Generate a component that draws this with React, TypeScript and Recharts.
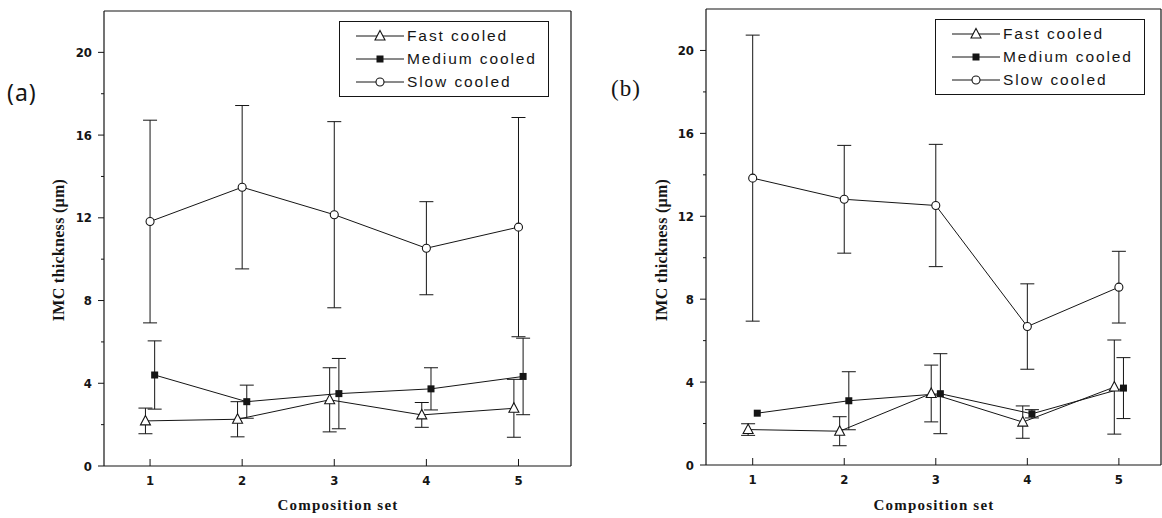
import React from "react";
import { ScatterChart, Scatter, XAxis, YAxis, ErrorBar } from "recharts";

// composition sets on the x axis
const categories = [1, 2, 3, 4, 5];
const yTicks = [0, 2, 4, 6, 8, 10, 12, 14, 16, 18, 20];

// panel (a)
const aFast = [2.18, 2.26, 3.2, 2.47, 2.79];
const aFastErr = [0.62, 0.85, 1.55, 0.6, 1.4];
const aMedium = [4.4, 3.11, 3.5, 3.73, 4.33];
const aMediumErr = [1.65, 0.8, 1.7, 1.02, 1.85];
const aSlow = [11.82, 13.48, 12.15, 10.53, 11.55];
const aSlowErr = [4.9, 3.95, 4.5, 2.25, 5.3];

// panel (b)
const bFast = [1.71, 1.63, 3.45, 2.07, 3.76];
const bFastErr = [0.28, 0.7, 1.37, 0.78, 2.27];
const bMedium = [2.5, 3.1, 3.44, 2.47, 3.71];
const bMediumErr = [0, 1.4, 1.93, 0.2, 1.47];
const bSlow = [13.84, 12.82, 12.52, 6.68, 8.58];
const bSlowErr = [6.9, 2.6, 2.95, 2.06, 1.73];

const INK = "#151515";
const TICK_FONT = "'Liberation Sans Narrow', 'DejaVu Sans Condensed', 'Arial Narrow', sans-serif";
const SERIF = "'Liberation Serif', 'DejaVu Serif', serif";
const SANS = "'Liberation Sans', Arial, sans-serif";

// small sideways shift so the three series don't sit on top of each other
const build = (vals: number[], errs: number[], shift: number) =>
  categories.map((c, i) => ({ x: c + shift, y: vals[i], err: errs[i] }));

function Triangle({ cx, cy }: any) {
  if (cx == null || cy == null) return null;
  return (
    <path
      d={`M${cx},${cy - 5.5} L${cx + 5},${cy + 4} L${cx - 5},${cy + 4} Z`}
      fill="#fff"
      stroke={INK}
      strokeWidth={1.1}
    />
  );
}

function Square({ cx, cy }: any) {
  if (cx == null || cy == null) return null;
  return <rect x={cx - 3.5} y={cy - 3.5} width={7} height={7} fill={INK} />;
}

function Circle({ cx, cy }: any) {
  if (cx == null || cy == null) return null;
  return <circle cx={cx} cy={cy} r={4} fill="#fff" stroke={INK} strokeWidth={1.1} />;
}

function LeftTick(props: any) {
  const { x, y, payload } = props;
  const ax = x + 12;
  const major = payload.value % 4 === 0;
  return (
    <g>
      <line x1={ax} x2={ax - (major ? 6 : 3)} y1={y} y2={y} stroke={INK} strokeWidth={1} />
      {major && (
        <text x={x} y={y} dy={4.5} textAnchor="end" fill={INK} fontFamily={TICK_FONT} fontWeight="bold" fontSize={13}>
          {payload.value}
        </text>
      )}
    </g>
  );
}

function BottomTick(props: any) {
  const { x, y, payload } = props;
  const ay = y - 8;
  return (
    <g>
      <line x1={x} x2={x} y1={ay} y2={ay - 7} stroke={INK} strokeWidth={1} />
      <text x={x} y={y} dy={11} textAnchor="middle" fill={INK} fontFamily={TICK_FONT} fontWeight="bold" fontSize={13}>
        {payload.value}
      </text>
    </g>
  );
}

function LegendBox({ left, top }: { left: number; top: number }) {
  const rows = [
    { name: "Fast cooled", Mark: Triangle },
    { name: "Medium cooled", Mark: Square },
    { name: "Slow cooled", Mark: Circle },
  ];
  return (
    <div
      style={{
        position: "absolute",
        left,
        top,
        width: 210,
        height: 76,
        border: `1px solid ${INK}`,
        background: "#fff",
        boxSizing: "border-box",
      }}
    >
      {rows.map((r, i) => (
        <div key={r.name} style={{ position: "absolute", left: 14, top: 4 + i * 23, height: 20, display: "flex", alignItems: "center" }}>
          <svg width={52} height={16}>
            <line x1={2} x2={50} y1={8} y2={8} stroke={INK} strokeWidth={1} />
            <r.Mark cx={26} cy={8} />
          </svg>
          <span style={{ fontFamily: SANS, fontSize: 15.5, letterSpacing: 1.9, color: INK, marginLeft: 1 }}>{r.name}</span>
        </div>
      ))}
    </div>
  );
}

type PanelProps = {
  left: number;
  width: number;
  margin: { top: number; right: number; bottom: number; left: number };
  xDomain: [number, number];
  fast: { y: number[]; e: number[] };
  medium: { y: number[]; e: number[] };
  slow: { y: number[]; e: number[] };
  tag: string;
  tagLeft: number;
  tagFont: string;
  yLabelX: number;
  xLabelX: number;
  legendLeft: number;
  legendTop: number;
};

function Panel(p: PanelProps) {
  const fastData = build(p.fast.y, p.fast.e, -0.05);
  const mediumData = build(p.medium.y, p.medium.e, 0.05);
  const slowData = build(p.slow.y, p.slow.e, 0);
  const line = { stroke: INK, strokeWidth: 1 };
  return (
    <>
      <div style={{ position: "absolute", left: p.left, top: 0 }}>
        <ScatterChart width={p.width} height={518} margin={p.margin}>
          <XAxis
            xAxisId="b"
            type="number"
            dataKey="x"
            domain={p.xDomain}
            allowDataOverflow
            ticks={categories}
            height={30}
            tickSize={0}
            tickMargin={8}
            tickLine={false}
            axisLine={{ stroke: INK, strokeWidth: 1.2 }}
            tick={<BottomTick />}
          />
          <XAxis
            xAxisId="t"
            type="number"
            dataKey="x"
            orientation="top"
            domain={p.xDomain}
            allowDataOverflow
            ticks={categories}
            height={1}
            mirror
            tickSize={6}
            tick={false}
            tickLine={{ stroke: INK }}
            axisLine={{ stroke: INK, strokeWidth: 1.2 }}
          />
          <YAxis
            yAxisId="l"
            type="number"
            dataKey="y"
            domain={[0, 22]}
            allowDataOverflow
            ticks={yTicks}
            width={40}
            tickSize={0}
            tickMargin={12}
            tickLine={false}
            axisLine={{ stroke: INK, strokeWidth: 1.2 }}
            tick={<LeftTick />}
          />
          <YAxis
            yAxisId="r"
            type="number"
            dataKey="y"
            orientation="right"
            domain={[0, 22]}
            allowDataOverflow
            ticks={yTicks}
            width={1}
            mirror
            tickSize={5}
            tick={false}
            tickLine={{ stroke: INK }}
            axisLine={{ stroke: INK, strokeWidth: 1.2 }}
          />
          <Scatter xAxisId="b" yAxisId="l" data={slowData} line={line} shape={Circle} isAnimationActive={false}>
            <ErrorBar dataKey="err" direction="y" width={7} stroke={INK} strokeWidth={1} />
          </Scatter>
          <Scatter xAxisId="b" yAxisId="l" data={mediumData} line={line} shape={Square} isAnimationActive={false}>
            <ErrorBar dataKey="err" direction="y" width={7} stroke={INK} strokeWidth={1} />
          </Scatter>
          <Scatter xAxisId="b" yAxisId="l" data={fastData} line={line} shape={Triangle} isAnimationActive={false}>
            <ErrorBar dataKey="err" direction="y" width={7} stroke={INK} strokeWidth={1} />
          </Scatter>
        </ScatterChart>
      </div>
      <div
        style={{
          position: "absolute",
          left: p.tagLeft,
          top: 76,
          fontFamily: p.tagFont,
          fontSize: 23,
          letterSpacing: 1,
          color: INK,
        }}
      >
        {p.tag}
      </div>
      <div
        style={{
          position: "absolute",
          left: p.yLabelX,
          top: 250,
          transform: "translate(-50%, -50%) rotate(-90deg)",
          whiteSpace: "nowrap",
          fontFamily: SERIF,
          fontWeight: "bold",
          fontSize: 16,
          letterSpacing: 0.3,
          color: INK,
        }}
      >
        IMC thickness (μm)
      </div>
      <div
        style={{
          position: "absolute",
          left: p.xLabelX,
          top: 505,
          transform: "translate(-50%, -50%)",
          whiteSpace: "nowrap",
          fontFamily: SERIF,
          fontWeight: "bold",
          fontSize: 15,
          letterSpacing: 1.2,
          color: INK,
        }}
      >
        Composition set
      </div>
      <LegendBox left={p.legendLeft} top={p.legendTop} />
    </>
  );
}

export default function App() {
  return (
    <div style={{ position: "absolute", left: 0, top: 0, width: 1162, height: 518, background: "#fff", overflow: "hidden" }}>
      <Panel
        left={0}
        width={580}
        margin={{ top: 11, right: 9, bottom: 22, left: 64 }}
        xDomain={[0.5, 5.57]}
        fast={{ y: aFast, e: aFastErr }}
        medium={{ y: aMedium, e: aMediumErr }}
        slow={{ y: aSlow, e: aSlowErr }}
        tag="(a)"
        tagLeft={7}
        tagFont="'Noto Sans', sans-serif"
        yLabelX={59}
        xLabelX={338}
        legendLeft={339}
        legendTop={21}
      />
      <Panel
        left={580}
        width={582}
        margin={{ top: 9, right: 1, bottom: 23, left: 86 }}
        xDomain={[0.49, 5.46]}
        fast={{ y: bFast, e: bFastErr }}
        medium={{ y: bMedium, e: bMediumErr }}
        slow={{ y: bSlow, e: bSlowErr }}
        tag="(b)"
        tagLeft={611}
        tagFont={SERIF}
        yLabelX={662}
        xLabelX={934}
        legendLeft={935}
        legendTop={19}
      />
    </div>
  );
}
